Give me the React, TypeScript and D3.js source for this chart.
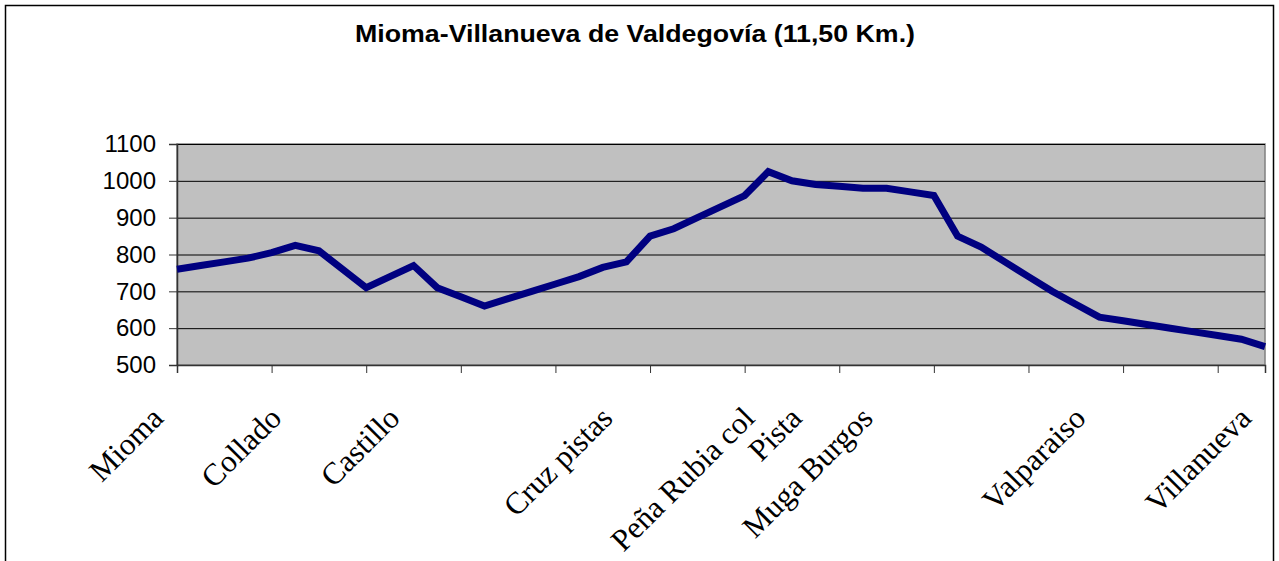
import React, { useEffect, useRef } from 'react';
import * as d3 from 'd3';

// elevation profile, one point per category (47 points)
const altitudes = [
  760, 770, 780, 790, 805, 825, 810, 760, 710, 740, 770, 710, 685, 660, 680,
  700, 720, 740, 765, 780, 850, 870, 900, 930, 960, 1025, 1000, 990, 985, 980,
  980, 970, 960, 850, 820, 780, 740, 700, 665, 630, 620, 610, 600, 590, 580,
  570, 550,
];

// place names, blank where the original had no label
const places = [
  'Mioma', '', '', '', '', 'Collado', '', '', '', '', 'Castillo', '', '', '', '',
  '', '', '', '', 'Cruz pistas', '', '', '', '', '', 'Peña Rubia col', '', 'Pista',
  '', '', 'Muga Burgos', '', '', '', '', '', '', '', '', 'Valparaiso', '', '', '',
  '', '', '', 'Villanueva',
];

const yTicks = [500, 600, 700, 800, 900, 1000, 1100];
const title = 'Mioma-Villanueva de Valdegovía (11,50 Km.)';

const App = () => {
  const svgRef = useRef<SVGSVGElement>(null);

  useEffect(() => {
    const w = 1279;
    const h = 561;
    const left = 177;
    const right = 1265;
    const top = 144;
    const bottom = 365;

    const svg = d3.select(svgRef.current);
    svg.selectAll('*').remove();
    svg.attr('width', w).attr('height', h);

    // chart frame
    svg
      .append('rect')
      .attr('x', 5.5)
      .attr('y', 5.5)
      .attr('width', 1268)
      .attr('height', 600)
      .attr('fill', 'white')
      .attr('stroke', 'black')
      .attr('stroke-width', 1.5);

    svg
      .append('text')
      .attr('x', 635)
      .attr('y', 42)
      .attr('text-anchor', 'middle')
      .attr('font-family', 'Liberation Sans, Arial, sans-serif')
      .attr('font-weight', 'bold')
      .attr('font-size', 24)
      .attr('textLength', 560)
      .attr('lengthAdjust', 'spacingAndGlyphs')
      .text(title);

    const xScale = d3
      .scalePoint<number>()
      .domain(d3.range(altitudes.length))
      .range([left, right]);
    const yScale = d3.scaleLinear().domain([500, 1100]).range([bottom, top]);

    // plot area
    svg
      .append('rect')
      .attr('x', left)
      .attr('y', top)
      .attr('width', right - left)
      .attr('height', bottom - top)
      .attr('fill', '#c0c0c0')
      .attr('stroke', '#808080')
      .attr('stroke-width', 1.5);

    svg
      .append('g')
      .selectAll('line')
      .data(yTicks.filter((t) => t > 500))
      .join('line')
      .attr('x1', left)
      .attr('x2', right)
      .attr('y1', (d) => yScale(d) + 0.5)
      .attr('y2', (d) => yScale(d) + 0.5)
      .attr('stroke', 'black')
      .attr('stroke-width', 1);

    const yAxis = d3
      .axisLeft(yScale)
      .tickValues(yTicks)
      .tickFormat(d3.format('d'))
      .tickSize(8)
      .tickPadding(13);
    const gy = svg.append('g').attr('transform', `translate(${left},0)`).call(yAxis);
    gy.select('.domain').attr('stroke', '#333').attr('stroke-width', 1.5);
    gy.selectAll('.tick line').attr('stroke', '#333');
    gy.selectAll('.tick text')
      .attr('font-family', 'Liberation Sans, Arial, sans-serif')
      .attr('font-size', 24)
      .attr('fill', 'black');

    const xAxis = d3
      .axisBottom(xScale)
      .tickValues(d3.range(0, altitudes.length, 4))
      .tickSize(8)
      .tickFormat(() => '');
    const gx = svg.append('g').attr('transform', `translate(0,${bottom})`).call(xAxis);
    gx.select('.domain').attr('stroke', '#333').attr('stroke-width', 1.5);
    gx.selectAll('.tick line').attr('stroke', '#333');

    // rotated place labels
    svg
      .append('g')
      .selectAll('text')
      .data(places.map((p, i) => ({ p, i })).filter((d) => d.p !== ''))
      .join('text')
      .attr('transform', (d) => `translate(${(xScale(d.i) as number) - 12},420) rotate(-45)`)
      .attr('text-anchor', 'end')
      .attr('font-family', 'Liberation Serif, Times New Roman, serif')
      .attr('font-size', 31)
      .attr('fill', 'black')
      .text((d) => d.p);

    const line = d3
      .line<number>()
      .x((d, i) => xScale(i) as number)
      .y((d) => yScale(d));

    svg
      .append('path')
      .datum(altitudes)
      .attr('d', line)
      .attr('fill', 'none')
      .attr('stroke', '#000080')
      .attr('stroke-width', 7)
      .attr('stroke-linejoin', 'miter');
  }, []);

  return (
    <svg
      ref={svgRef}
      style={{ position: 'absolute', left: 0, top: 0, display: 'block' }}
    ></svg>
  );
};

export default App;
